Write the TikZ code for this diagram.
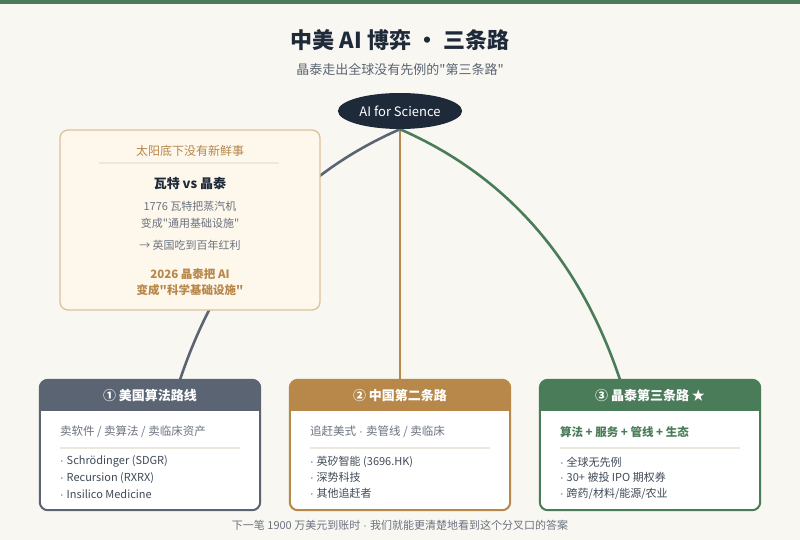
\documentclass[tikz,border=0pt]{standalone}
\usepackage{fontspec}
\setmainfont{Noto Sans CJK SC}
\newfontfamily\latinfont{Liberation Sans}
\newcommand\middot{{\latinfont\ \symbol{"00B7}\ }}
\newcommand\bul{{\latinfont\symbol{"00B7}\ }}
\newcommand\qq{\textquotedbl}
\usetikzlibrary{shapes.geometric, backgrounds}
\definecolor{paper}{HTML}{F8F7F2}
\definecolor{ink}{HTML}{1E2A3A}
\definecolor{slate}{HTML}{5A6472}
\definecolor{tan}{HTML}{B8874A}
\definecolor{leaf}{HTML}{4A7C59}
\definecolor{cream}{HTML}{FDF7EC}
\definecolor{sand}{HTML}{DCC29C}
\definecolor{rulegray}{HTML}{ECE8DE}
\definecolor{muted}{HTML}{6B7280}
\tikzset{
road/.style={
	rectangle,
	rounded corners=8pt,
	minimum width=220pt,
	minimum height=130pt,
	fill=white,
	inner sep=0pt
},
link/.style={
	line width=2.6pt,
	line cap=round
}
}

\begin{document}
\begin{tikzpicture}[
  x=1pt, y=-1pt,
  hd/.style={font=\fontsize{13}{16}\selectfont\bfseries, text=white},
  sub/.style={font=\fontsize{11.5}{14}\selectfont, text=muted, anchor=west, inner sep=0pt},
  item/.style={font=\fontsize{11}{14}\selectfont, text=ink!85, anchor=west, inner sep=0pt},
  note/.style={font=\fontsize{11}{14}\selectfont, text=muted}
]

\node (title) [font=\fontsize{22}{26}\selectfont\bfseries, text=ink] at (400,40) {中美 AI 博弈 · 三条路};
\node (subtitle) [font=\fontsize{13}{16}\selectfont, text=slate] at (400,70) {晶泰走出全球没有先例的\qq{}第三条路\qq};
\node (ai) [ellipse, fill=ink, text=white, minimum width=120pt, minimum height=36pt,
  font=\fontsize{13}{16}\selectfont] at (400,111) {AI for Science};

\node (usa) [road] at (150,445) {};
\node (cn)  [road] at (400,445) {};
\node (xt)  [road] at (650,445) {};

% paper, top bar and the three roads behind everything
\begin{scope}[on background layer]
  \fill[paper] (0,0) rectangle (800,540);
  \fill[leaf] (0,0) rectangle (800,4);
  \draw[link, slate] (ai.south) .. controls (293,176) and (220,260) .. ([xshift=30pt]usa.north);
  \draw[link, tan]   (ai.south) -- (cn.north);
  \draw[link, leaf]  (ai.south) .. controls (507,176) and (580,260) .. ([xshift=-30pt]xt.north);
\end{scope}

% story box
\node (story) [rectangle, rounded corners=8pt, draw=sand, fill=cream, line width=1.3pt,
  minimum width=260pt, minimum height=180pt] at (190,220) {};
\node (proverb) [font=\fontsize{12}{14}\selectfont, text=tan] at (190,151) {太阳底下没有新鲜事};
\draw[rulegray, line width=1.5pt] ([xshift=40pt]story.west |- proverb.south) ++(0,3) -- ++(180,0);
\node (vs) [font=\fontsize{13}{16}\selectfont\bfseries, text=ink] at (190,184) {瓦特 vs 晶泰};
\node (watt1) [note] at (190,206) {1776 瓦特把蒸汽机};
\node (watt2) [note] at (190,223) {变成\qq{}通用基础设施\qq};
\node (uk) [note] at (190,245) {→ 英国吃到百年红利};
\node (xt1) [font=\fontsize{11.5}{14}\selectfont\bfseries, text=tan] at (190,274) {2026 晶泰把 AI};
\node (xt2) [font=\fontsize{11.5}{14}\selectfont\bfseries, text=tan] at (190,290) {变成\qq{}科学基础设施\qq};

% headers, borders and rules of the three roads
\foreach \n/\c in {usa/slate, cn/tan, xt/leaf} {
  \begin{scope}
    \clip[rounded corners=8pt] (\n.north west) rectangle (\n.south east);
    \fill[\c] (\n.north west) rectangle ([yshift=-31pt]\n.north east);
  \end{scope}
  \draw[\c, line width=2pt, rounded corners=8pt] (\n.north west) rectangle (\n.south east);
  \draw[rulegray, line width=1.5pt] ([xshift=20pt, yshift=-68pt]\n.north west) -- ([xshift=-20pt, yshift=-68pt]\n.north east);
}

\node (usa-h) [hd] at ([yshift=-16pt]usa.north) {① 美国算法路线};
\node (usa-s) [sub] at ([xshift=20pt, yshift=-52pt]usa.north west) {卖软件 / 卖算法 / 卖临床资产};
\node (usa-1) [item] at ([xshift=20pt, yshift=-82pt]usa.north west) {\bul Schrödinger (SDGR)};
\node (usa-2) [item] at ([xshift=20pt, yshift=-98pt]usa.north west) {\bul Recursion (RXRX)};
\node (usa-3) [item] at ([xshift=20pt, yshift=-114pt]usa.north west) {\bul Insilico Medicine};

\node (cn-h) [hd] at ([yshift=-16pt]cn.north) {② 中国第二条路};
\node (cn-s) [sub] at ([xshift=20pt, yshift=-52pt]cn.north west) {追赶美式\middot{}卖管线 / 卖临床};
\node (cn-1) [item] at ([xshift=20pt, yshift=-82pt]cn.north west) {\bul 英矽智能 (3696.HK)};
\node (cn-2) [item] at ([xshift=20pt, yshift=-98pt]cn.north west) {\bul 深势科技};
\node (cn-3) [item] at ([xshift=20pt, yshift=-114pt]cn.north west) {\bul 其他追赶者};

\node (xt-h) [hd] at ([yshift=-16pt]xt.north) {③ 晶泰第三条路 ★};
\node (xt-s) [sub, text=leaf, font=\fontsize{11.5}{14}\selectfont\bfseries] at ([xshift=20pt, yshift=-52pt]xt.north west) {算法 + 服务 + 管线 + 生态};
\node (xt-1) [item] at ([xshift=20pt, yshift=-82pt]xt.north west) {\bul 全球无先例};
\node (xt-2) [item] at ([xshift=20pt, yshift=-98pt]xt.north west) {\bul 30+ 被投 IPO 期权券};
\node (xt-3) [item] at ([xshift=20pt, yshift=-114pt]xt.north west) {\bul 跨药/材料/能源/农业};

\node (footer) [note] at (400,525) {下一笔 1900 万美元到账时\middot{}我们就能更清楚地看到这个分叉口的答案};

\end{tikzpicture}
\end{document}
